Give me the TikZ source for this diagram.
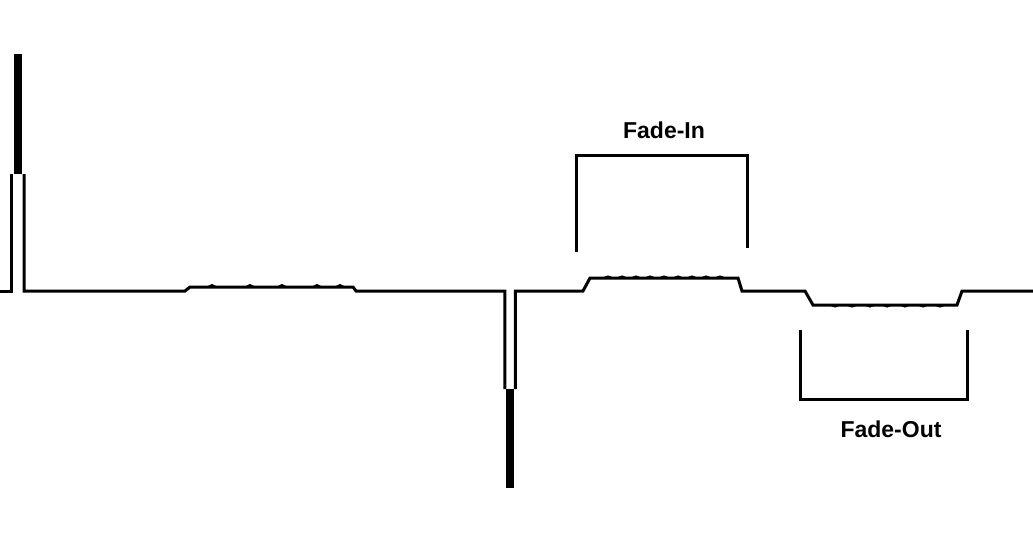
\documentclass[tikz,border=0pt]{standalone}
\usepackage{fontspec}
\setmainfont{Liberation Sans}
\usepackage{tikz}
\usetikzlibrary{positioning}

\begin{document}
\begin{tikzpicture}[
  x=1pt, y=-1pt,
  font=\bfseries\fontsize{23}{27}\selectfont,
  signal/.style={draw=black, line width=3pt, line join=miter},
  burst/.style={draw=black, line width=8.5pt},
  bump/.style={draw=black, line width=2pt},
  bracket/.style={draw=black, line width=3pt, line join=miter},
  caption/.style={inner sep=0pt, anchor=center}
]
\useasboundingbox (0,0) rectangle (1033,533);

% signal line
\draw[signal] (0,291) -- (11.5,291) -- (11.5,174);
\draw[signal] (24,174) -- (24,291) -- (185,291) -- (190,287) -- (353,287)
  -- (356,291) -- (504.8,291) -- (504.8,389);
\draw[signal] (515.3,389) -- (515.3,291) -- (583,291) -- (590,278) -- (738,278)
  -- (742,291) -- (805,291) -- (813,305) -- (957,305) -- (962,291) -- (1033,291);

% the two spikes
\draw[burst] (18,174) -- (18,54);
\draw[burst] (510,389) -- (510,488);

% small ripples
\foreach \x in {212,250,282,317,340}
  \draw[bump] (\x-4,287) -- (\x,285) -- (\x+4,287);
\foreach \x in {608,622,636,650,664,678,692,706,720}
  \draw[bump] (\x-4,278) -- (\x,276.5) -- (\x+4,278);
\foreach \x in {835,852,870,887,905,923,940}
  \draw[bump] (\x-4,305) -- (\x,306.5) -- (\x+4,305);

% brackets
\draw[bracket] (576,252) -- (576,155.5) -- (747,155.5) -- (747,248);
\draw[bracket] (800,330) -- (800,399.5) -- (967.5,399.5) -- (967.5,330);

\node[caption] (fadein) at (664,130) {Fade-In};
\node[caption] (fadeout) at (891,429) {Fade-Out};
\end{tikzpicture}
\end{document}
